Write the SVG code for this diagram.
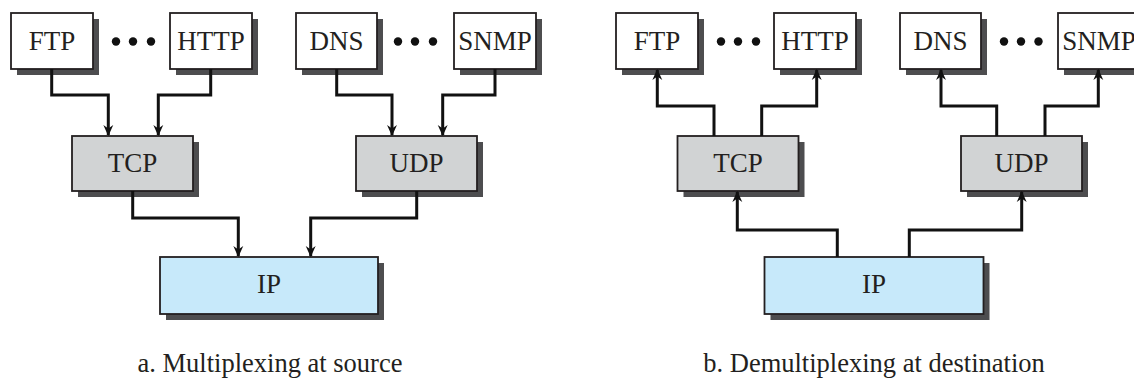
<svg xmlns="http://www.w3.org/2000/svg" width="1134" height="379" viewBox="0 0 1134 379">
<style>
.box{stroke:#231f20;stroke-width:1.8}
.app{fill:#ffffff}
.tr{fill:#d1d3d4}
.ip{fill:#c7e9fa}
.sh{fill:#4d4d4f}
.lbl{font-family:"Liberation Serif","Times New Roman",serif;font-size:27px;fill:#231f20;text-anchor:middle}
.cap{font-family:"Liberation Serif","Times New Roman",serif;font-size:26.5px;fill:#231f20;text-anchor:middle}
.conn{fill:none;stroke:#111;stroke-width:3;marker-end:url(#arr)}
.dot{fill:#111}
</style>
<defs>
<marker id="arr" viewBox="0 0 10 10" refX="9" refY="5" markerWidth="11" markerHeight="11" markerUnits="userSpaceOnUse" orient="auto">
<path d="M0,0.5 L10,5 L0,9.5 L3,5 Z" fill="#111"/>
</marker>
</defs>
<rect width="1134" height="379" fill="#ffffff"/>

<!-- Panel a -->
<g id="a-ftp"><rect class="sh" x="17" y="19" width="82" height="56"/><rect class="box app" x="11" y="13" width="82" height="56"/><text class="lbl" x="52" y="50">FTP</text></g>
<g id="a-http"><rect class="sh" x="176" y="19" width="82" height="56"/><rect class="box app" x="170" y="13" width="82" height="56"/><text class="lbl" x="211" y="50">HTTP</text></g>
<g id="a-dns"><rect class="sh" x="302" y="19" width="81" height="56"/><rect class="box app" x="296" y="13" width="81" height="56"/><text class="lbl" x="336.5" y="50">DNS</text></g>
<g id="a-snmp"><rect class="sh" x="460" y="19" width="82" height="56"/><rect class="box app" x="454" y="13" width="82" height="56"/><text class="lbl" x="495" y="50">SNMP</text></g>
<g id="a-tcp"><rect class="sh" x="78" y="142" width="121" height="55"/><rect class="box tr" x="72" y="136" width="121" height="55"/><text class="lbl" x="132.5" y="172">TCP</text></g>
<g id="a-udp"><rect class="sh" x="362" y="142" width="121" height="55"/><rect class="box tr" x="356" y="136" width="121" height="55"/><text class="lbl" x="416.5" y="172">UDP</text></g>
<g id="a-ip"><rect class="sh" x="166" y="263" width="218" height="57"/><rect class="box ip" x="160" y="257" width="218" height="57"/><text class="lbl" x="269" y="293">IP</text></g>
<g id="a-dots1"><circle class="dot" cx="116" cy="41.5" r="4.2"/><circle class="dot" cx="133" cy="41.5" r="4.2"/><circle class="dot" cx="151" cy="41.5" r="4.2"/></g>
<g id="a-dots2"><circle class="dot" cx="398" cy="41.5" r="4.2"/><circle class="dot" cx="415" cy="41.5" r="4.2"/><circle class="dot" cx="433" cy="41.5" r="4.2"/></g>

<!-- Panel b -->
<g id="b-ftp"><rect class="sh" x="622" y="19" width="82" height="56"/><rect class="box app" x="616" y="13" width="82" height="56"/><text class="lbl" x="657" y="50">FTP</text></g>
<g id="b-http"><rect class="sh" x="780" y="19" width="82" height="56"/><rect class="box app" x="774" y="13" width="82" height="56"/><text class="lbl" x="815" y="50">HTTP</text></g>
<g id="b-dns"><rect class="sh" x="906" y="19" width="81" height="56"/><rect class="box app" x="900" y="13" width="81" height="56"/><text class="lbl" x="940.5" y="50">DNS</text></g>
<g id="b-snmp"><rect class="sh" x="1064" y="19" width="82" height="56"/><rect class="box app" x="1058" y="13" width="82" height="56"/><text class="lbl" x="1099" y="50">SNMP</text></g>
<g id="b-tcp"><rect class="sh" x="683.5" y="142" width="121" height="55"/><rect class="box tr" x="677.5" y="136" width="121" height="55"/><text class="lbl" x="738" y="172">TCP</text></g>
<g id="b-udp"><rect class="sh" x="967" y="142" width="121" height="55"/><rect class="box tr" x="961" y="136" width="121" height="55"/><text class="lbl" x="1021.5" y="172">UDP</text></g>
<g id="b-ip"><rect class="sh" x="770.5" y="263" width="219" height="57"/><rect class="box ip" x="764.5" y="257" width="219" height="57"/><text class="lbl" x="874" y="293">IP</text></g>
<g id="b-dots1"><circle class="dot" cx="721" cy="41.5" r="4.2"/><circle class="dot" cx="738" cy="41.5" r="4.2"/><circle class="dot" cx="756" cy="41.5" r="4.2"/></g>
<g id="b-dots2"><circle class="dot" cx="1004" cy="41.5" r="4.2"/><circle class="dot" cx="1021" cy="41.5" r="4.2"/><circle class="dot" cx="1038.5" cy="41.5" r="4.2"/></g>

<g id="connectors">
<path class="conn" d="M51.7 69 V95 H108.3 V135"/>
<path class="conn" d="M210.7 69 V95 H158.3 V135"/>
<path class="conn" d="M336.7 69 V95 H392 V135"/>
<path class="conn" d="M495 69 V95 H442.7 V135"/>
<path class="conn" d="M132.7 191 V218 H238.3 V256"/>
<path class="conn" d="M416.7 191 V218 H310.7 V256"/>
<path class="conn" d="M714 136 V106 H657.3 V70"/>
<path class="conn" d="M761.7 136 V106 H816.7 V70"/>
<path class="conn" d="M996.7 136 V106 H941 V70"/>
<path class="conn" d="M1045 136 V106 H1098.3 V70"/>
<path class="conn" d="M837.3 257 V230 H737.3 V192"/>
<path class="conn" d="M909.3 257 V230 H1021.7 V192"/>
</g>

<g id="captions">
<text class="cap" x="270" y="372">a. Multiplexing at source</text>
<text class="cap" x="874" y="372">b. Demultiplexing at destination</text>
</g>
</svg>
